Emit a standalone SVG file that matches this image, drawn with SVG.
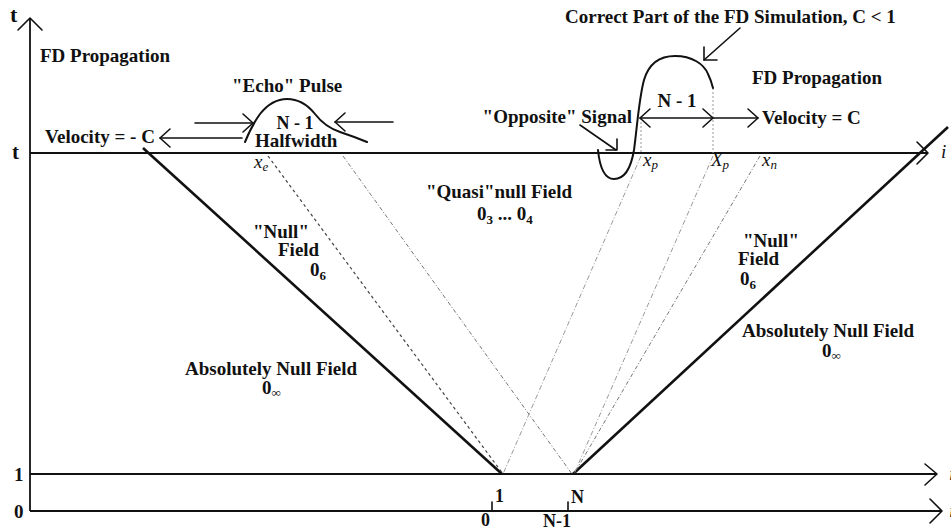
<svg xmlns="http://www.w3.org/2000/svg" width="951" height="531" viewBox="0 0 951 531">
<style>
.lb{font-family:"Liberation Serif","Times New Roman",serif;font-weight:bold;font-size:19px;fill:#111}
.it{font-family:"Liberation Serif","Times New Roman",serif;font-style:italic;font-size:19px;fill:#111}
.sub{font-size:13px}
.ax{stroke:#111;stroke-width:1.8;fill:none}
.thick{stroke:#111;stroke-width:2.6;fill:none}
.cur{stroke:#111;stroke-width:2;fill:none;stroke-linecap:round;stroke-linejoin:round}
.arr{stroke:#111;stroke-width:1.6;fill:none;stroke-linecap:round;stroke-linejoin:round}
.dk{stroke:#444;stroke-width:1.2;stroke-dasharray:3 3;fill:none}
.md{stroke:#777;stroke-width:1;stroke-dasharray:4 2 1 2;fill:none}
.lt{stroke:#999;stroke-width:1;stroke-dasharray:5 2 1 2;fill:none}
.vd{stroke:#999;stroke-width:1;stroke-dasharray:2 2;fill:none}
</style>

<g id="axes">
  <line class="ax" x1="30" y1="511" x2="30" y2="18"/>
  <polyline class="arr" points="18,30 30,18 42,30"/>
  <line class="ax" x1="30" y1="153" x2="928" y2="153"/>
  <polyline class="arr" points="917,142 928,153 917,164"/>
  <line class="ax" x1="30" y1="474" x2="937" y2="474"/>
  <polyline class="arr" points="925,464 937,474 925,485"/>
  <line class="ax" x1="30" y1="511" x2="942" y2="511"/>
  <polyline class="arr" points="930,499 942,511 930,523"/>
  <line class="arr" x1="492" y1="502" x2="492" y2="511"/>
  <line class="arr" x1="568" y1="502" x2="568" y2="511"/>
</g>

<g id="connectors">
  <line class="thick" x1="143" y1="148" x2="502" y2="474"/>
  <line class="thick" x1="573" y1="474" x2="948" y2="127"/>
  <line class="dk" x1="268" y1="156" x2="503" y2="474"/>
  <line class="md" x1="343" y1="156" x2="572" y2="474"/>
  <line class="lt" x1="641" y1="156" x2="503" y2="474"/>
  <line class="lt" x1="713" y1="156" x2="574" y2="474"/>
  <line class="md" x1="760" y1="156" x2="574" y2="474"/>
  <line class="vd" x1="641" y1="118" x2="641" y2="153"/>
  <line class="vd" x1="713" y1="88" x2="713" y2="153"/>
</g>

<g id="echo-pulse">
  <path class="cur" d="M245,142 Q252,125 260,114 Q272,99 287,99 Q303,99 315,114 Q325,127 340,132 Q355,137 367,142"/>
  <line class="arr" x1="195" y1="123" x2="253" y2="123"/>
  <polyline class="arr" points="243,114 253,123 243,132"/>
  <line class="arr" x1="393" y1="122" x2="335" y2="122"/>
  <polyline class="arr" points="345,113 335,122 345,131"/>
  <line class="arr" x1="242" y1="138" x2="160" y2="138"/>
  <polyline class="arr" points="170,129 160,138 170,147"/>
</g>

<g id="correct-pulse">
  <path class="cur" d="M598,150 C600,170 605,179 614,179 C625,179 631,168 634,150 C637,128 639,98 644,80 C649,63 660,56 675,56 C692,56 704,64 708,74 C711,80 712,84 713,88"/>
  <line class="arr" x1="740" y1="28" x2="704" y2="60"/>
  <polyline class="arr" points="717,60 704,60 704,47"/>
  <line class="arr" x1="580" y1="125" x2="616" y2="150"/>
  <polyline class="arr" points="606,150 617,150 617,139"/>
  <line class="arr" x1="640" y1="118" x2="758" y2="118"/>
  <polyline class="arr" points="650,109 640,118 650,127"/>
  <polyline class="arr" points="703,109 713,118 703,127"/>
  <polyline class="arr" points="748,109 758,118 748,127"/>
</g>

<g id="labels">
  <text class="lb" x="10" y="22" style="font-size:22px">t</text>
  <text class="lb" x="12" y="159" style="font-size:21px">t</text>
  <text class="lb" x="14" y="481">1</text>
  <text class="lb" x="14" y="518">0</text>
  <text class="it" x="941" y="158">i</text>
  <text class="it" x="949" y="480">i</text>
  <text class="it" x="949" y="517">i</text>

  <text class="lb" x="40" y="62">FD Propagation</text>
  <text class="lb" x="232" y="92">"Echo" Pulse</text>
  <text class="lb" x="45" y="143">Velocity = - C</text>
  <text class="lb" x="295" y="129" text-anchor="middle" style="font-size:18px">N - 1</text>
  <text class="lb" x="255" y="147">Halfwidth</text>
  <text class="it" x="254" y="168">x<tspan class="sub" dy="3">e</tspan></text>

  <text class="lb" x="565" y="23">Correct Part of the FD Simulation, C &lt; 1</text>
  <text class="lb" x="752" y="84">FD Propagation</text>
  <text class="lb" x="632" y="123" text-anchor="end">"Opposite" Signal</text>
  <text class="lb" x="677" y="107" text-anchor="middle">N - 1</text>
  <text class="lb" x="762" y="124">Velocity = C</text>
  <text class="it" x="643" y="166">x<tspan class="sub" dy="3">p</tspan></text>
  <text class="it" x="711" y="166">X<tspan class="sub" dy="3">p</tspan></text>
  <text class="it" x="762" y="166">x<tspan class="sub" dy="3">n</tspan></text>

  <text class="lb" x="499" y="198" text-anchor="middle">"Quasi"null Field</text>
  <text class="lb" x="477" y="220">0<tspan class="sub" dy="4">3</tspan><tspan dy="-4"> ... 0</tspan><tspan class="sub" dy="4">4</tspan></text>

  <text class="lb" x="253" y="238">"Null"</text>
  <text class="lb" x="278" y="256">Field</text>
  <text class="lb" x="310" y="276">0<tspan class="sub" dy="4">6</tspan></text>

  <text class="lb" x="743" y="247">"Null"</text>
  <text class="lb" x="738" y="265">Field</text>
  <text class="lb" x="740" y="285">0<tspan class="sub" dy="4">6</tspan></text>

  <text class="lb" x="185" y="375">Absolutely Null Field</text>
  <text class="lb" x="262" y="394">0<tspan class="sub" dy="3">∞</tspan></text>
  <text class="lb" x="742" y="337">Absolutely Null Field</text>
  <text class="lb" x="822" y="357">0<tspan class="sub" dy="3">∞</tspan></text>

  <text class="lb" x="495" y="502" style="font-size:18px">1</text>
  <text class="lb" x="481" y="526" style="font-size:18px">0</text>
  <text class="lb" x="571" y="503" style="font-size:18px">N</text>
  <text class="lb" x="543" y="527" style="font-size:18px">N-1</text>
</g>
</svg>
